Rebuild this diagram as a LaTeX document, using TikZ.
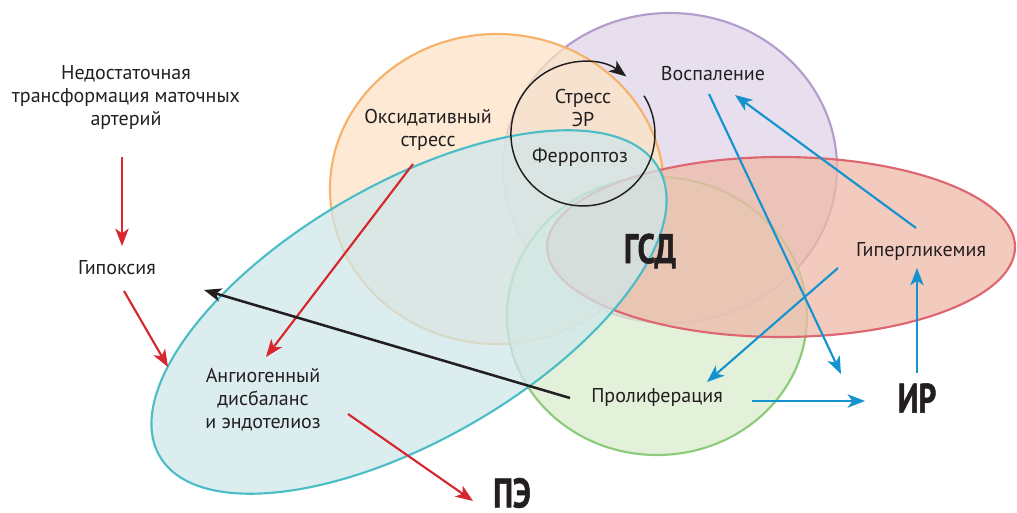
\documentclass[tikz,border=0pt]{standalone}
\usepackage{fontspec}
\setmainfont{PT Sans}
\newfontfamily\boldcond[FakeStretch=0.75,FakeBold=1.2]{PT Sans}
\usetikzlibrary{arrows.meta,calc}

\definecolor{txtgray}{HTML}{231F20}
\definecolor{redline}{HTML}{D7262D}
\definecolor{blueline}{HTML}{1593CF}
\definecolor{orangefill}{RGB}{252,226,198}
\definecolor{orangeline}{HTML}{F6B26B}
\definecolor{purplefill}{RGB}{223,212,232}
\definecolor{purpleline}{HTML}{B49CCD}
\definecolor{redfill}{RGB}{238,186,168}
\definecolor{redstroke}{HTML}{DD6670}
\definecolor{greenfill}{RGB}{218,235,206}
\definecolor{greenline}{HTML}{8CCB7A}
\definecolor{tealfill}{RGB}{208,231,235}
\definecolor{tealline}{HTML}{4BBDC6}

\tikzset{
  blob/.style={line width=1.6pt, fill opacity=0.75},
  lbl/.style={inner sep=0pt, align=center, text=txtgray, font=\fontsize{15}{17.25}\selectfont},
  biglbl/.style={inner sep=0pt, text=txtgray, font={\boldcond\bfseries\fontsize{31}{31}\selectfont}},
  redarr/.style={draw=redline, line width=1.6pt, -{Stealth[length=13pt,width=10pt,inset=3.5pt]}},
  bluearr/.style={draw=blueline, line width=1.6pt, -{Stealth[length=13pt,width=10pt,inset=3.5pt]}},
  blackarr/.style={draw=txtgray, line width=1.9pt, -{Stealth[length=13pt,width=10pt,inset=3.5pt]}}
}

\begin{document}
\begin{tikzpicture}[x=0.75pt,y=0.75pt,yscale=-1,xscale=1]
\useasboundingbox (0,0) rectangle (1017,513);
% sets
\draw [blob, draw=purpleline, fill=purplefill] (670,168) ellipse [x radius=167, y radius=155];
\draw [blob, draw=orangeline, fill=orangefill] (497,189) ellipse [x radius=167, y radius=155];
\draw [blob, draw=greenline, fill=greenfill] (657,316) ellipse [x radius=150, y radius=139];
\draw [blob, draw=redstroke, fill=redfill] (781,247) ellipse [x radius=234, y radius=90];
\draw [blob, draw=tealline, fill=tealfill, rotate around={-30:(409,312)}] (409,312) ellipse [x radius=288, y radius=128];
% cycle
\draw [txtgray, line width=1.1pt, -{Stealth[length=13pt,width=10pt,inset=3.5pt]}] (644,95.8) arc [start angle=-32, end angle=307, radius=72];

% labels
\node [lbl] (nedost) at (126,98) {Недостаточная\\трансформация маточных\\артерий};
\node [lbl] (gipox) at (117,268) {Гипоксия};
\node [lbl] (angio) at (263,400) {Ангиогенный\\дисбаланс\\и эндотелиоз};
\node [biglbl] (pe) at (512,493) {ПЭ};
\node [lbl] (oks) at (428,130) {Оксидативный\\стресс};
\node [lbl] (stresser) at (583,108) {Стресс\\ЭР};
\node [lbl] (ferro) at (580,157) {Ферроптоз};
\node [lbl] (vosp) at (713,74) {Воспаление};
\node [biglbl] (gsd) at (650,251) {ГСД};
\node [lbl] (giper) at (921,252) {Гипергликемия};
\node [biglbl] (ir) at (917,398) {ИР};
\node [lbl] (prolif) at (657,397) {Пролиферация};

% arrows
\draw [redarr] ($(nedost)+(-4,59)$) -- ($(gipox)+(5,-22)$);
\draw [redarr] ($(gipox)+(7,23)$) -- ($(angio)+(-95,-33)$);
\draw [redarr] ($(oks)+(-15,34)$) -- ($(angio)+(3,-43)$);
\draw [redarr] ($(angio)+(85,14)$) -- ($(pe)+(-39,8)$);
\draw [blackarr] ($(prolif)+(-87,1)$) -- ($(gipox)+(87,22)$);
\draw [bluearr] ($(vosp)+(-4,20)$) -- ($(ir)+(-76,-24)$);
\draw [bluearr] ($(giper)+(-5,-24)$) -- ($(vosp)+(22,21)$);
\draw [bluearr] ($(giper)+(-83,16)$) -- ($(prolif)+(50,-15)$);
\draw [bluearr] ($(prolif)+(95,4)$) -- ($(ir)+(-52,3)$);
\draw [bluearr] ($(ir)+(0,-25)$) -- ($(giper)+(-4,16)$);
\end{tikzpicture}
\end{document}
